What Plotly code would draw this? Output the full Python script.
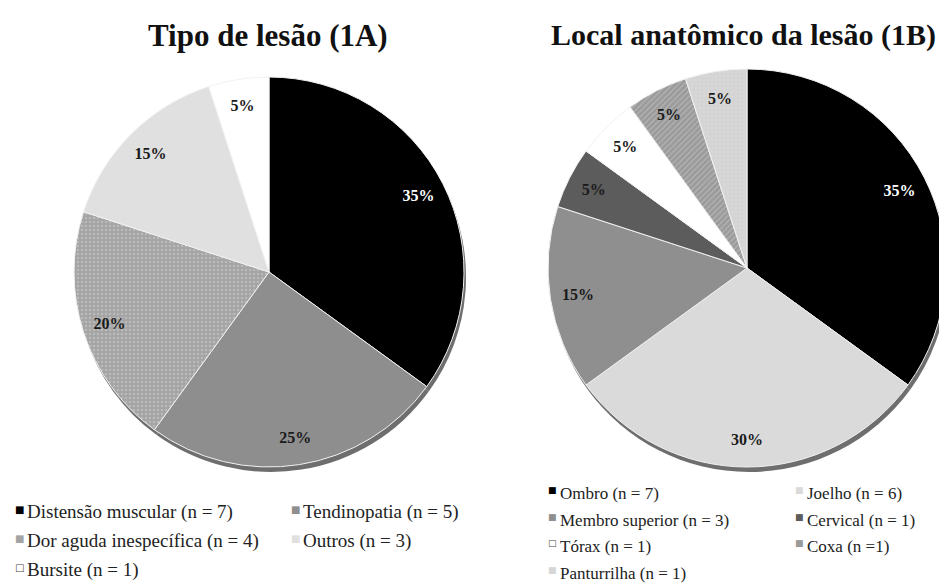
import plotly.graph_objects as go

# ---- Data ----
tipo_labels = ["Distensão muscular", "Tendinopatia", "Dor aguda inespecífica", "Outros", "Bursite"]
tipo_values = [7, 5, 4, 3, 1]
tipo_colors = ["#000000", "#8e8e8e", "#a4a4a4", "#e0e0e0", "#ffffff"]
tipo_patterns = ["", "", ".", "", ""]

local_labels = ["Ombro", "Joelho", "Membro superior", "Cervical", "Tórax", "Coxa", "Panturrilha"]
local_values = [7, 6, 3, 1, 1, 1, 1]
local_colors = ["#000000", "#dadada", "#8f8f8f", "#5c5c5c", "#ffffff", "#9a9a9a", "#d6d6d6"]
local_patterns = ["", "", "", "", "", "/", "."]

tipo_legend = ["Distensão muscular (n = 7)", "Tendinopatia (n = 5)",
               "Dor aguda inespecífica (n = 4)", "Outros (n = 3)", "Bursite (n = 1)"]
local_legend = ["Ombro (n = 7)", "Joelho (n = 6)", "Membro superior (n = 3)", "Cervical (n = 1)",
                "Tórax (n = 1)", "Coxa (n =1)", "Panturrilha (n = 1)"]

W, H = 947, 585
OFF = 8  # page body margin
SERIF = "Liberation Serif, Times New Roman, serif"


def px_x(x):
    return (x - OFF) / W


def px_y(y):
    return 1 - (y - OFF) / H


def dom(cx, cy, r):
    return dict(x=[px_x(cx - r), px_x(cx + r)], y=[px_y(cy + r), px_y(cy - r)])


fig = go.Figure()


def add_pie(labels, values, colors, patterns, cx, cy, r):
    n = len(values)
    # soft shadow underneath
    fig.add_trace(go.Pie(
        labels=labels, values=values, sort=False, direction="clockwise",
        marker=dict(colors=["#6e6e6e"] * n, line=dict(width=0)),
        textinfo="none", hoverinfo="skip", showlegend=False,
        domain=dom(cx + 2, cy + 5, r),
    ))
    fig.add_trace(go.Pie(
        labels=labels, values=values, sort=False, direction="clockwise",
        marker=dict(colors=colors, line=dict(color="#f2f2f2", width=1),
                    pattern=dict(shape=patterns, fgcolor="#cfcfcf", size=4,
                                 solidity=0.3, fillmode="overlay")),
        textinfo="none", hoverinfo="label+value+percent", showlegend=False,
        domain=dom(cx, cy, r),
    ))
    # transparent ring carrying the percentage labels toward the outer edge
    fig.add_trace(go.Pie(
        labels=labels, values=values, sort=False, direction="clockwise", hole=0.72,
        marker=dict(colors=["rgba(0,0,0,0)"] * n, line=dict(width=0)),
        texttemplate="<b>%{percent:.0%}</b>", textposition="inside",
        insidetextorientation="horizontal",
        textfont=dict(family=SERIF, size=16, color=["#ffffff"] + ["#1a1a1a"] * (n - 1)),
        hoverinfo="skip", showlegend=False,
        domain=dom(cx, cy, r),
    ))


add_pie(tipo_labels, tipo_values, tipo_colors, tipo_patterns, 269, 272, 195)
add_pie(local_labels, local_values, local_colors, local_patterns, 747, 268, 199)

ann = []
ann.append(dict(text="<b>Tipo de lesão (1A)</b>", x=px_x(268), y=px_y(35), xref="paper", yref="paper",
                showarrow=False, font=dict(family=SERIF, size=31, color="#111"),
                xanchor="center", yanchor="middle"))
ann.append(dict(text="<b>Local anatômico da lesão (1B)</b>", x=px_x(743), y=px_y(35), xref="paper",
                yref="paper", showarrow=False, font=dict(family=SERIF, size=30, color="#111"),
                xanchor="center", yanchor="middle"))


def legend_item(text, color, x, y, size, border=False):
    sq = "□" if border else "■"
    col = "#444444" if border else color
    ann.append(dict(text=sq, x=px_x(x), y=px_y(y - 3), xref="paper", yref="paper", showarrow=False,
                    xanchor="center", yanchor="middle",
                    font=dict(family="DejaVu Sans", size=int(size * 0.55), color=col)))
    ann.append(dict(text=text, x=px_x(x + 6), y=px_y(y), xref="paper", yref="paper", showarrow=False,
                    xanchor="left", yanchor="middle",
                    font=dict(family=SERIF, size=size, color="#222")))


tipo_pos = [(19, 512), (295, 512), (19, 541), (295, 541), (19, 570)]
for lab, col, (x, y) in zip(tipo_legend, tipo_colors, tipo_pos):
    legend_item(lab, col, x, y, 19, border=(col == "#ffffff"))

local_pos = [(552, 493), (799, 493), (552, 520), (799, 520), (552, 546), (799, 546), (552, 573)]
for lab, col, (x, y) in zip(local_legend, local_colors, local_pos):
    legend_item(lab, col, x, y, 17, border=(col == "#ffffff"))

fig.update_layout(
    width=W, height=H, margin=dict(l=0, r=0, t=0, b=0),
    paper_bgcolor="#ffffff", plot_bgcolor="#ffffff",
    annotations=ann,
)

fig.write_html("out.html")
